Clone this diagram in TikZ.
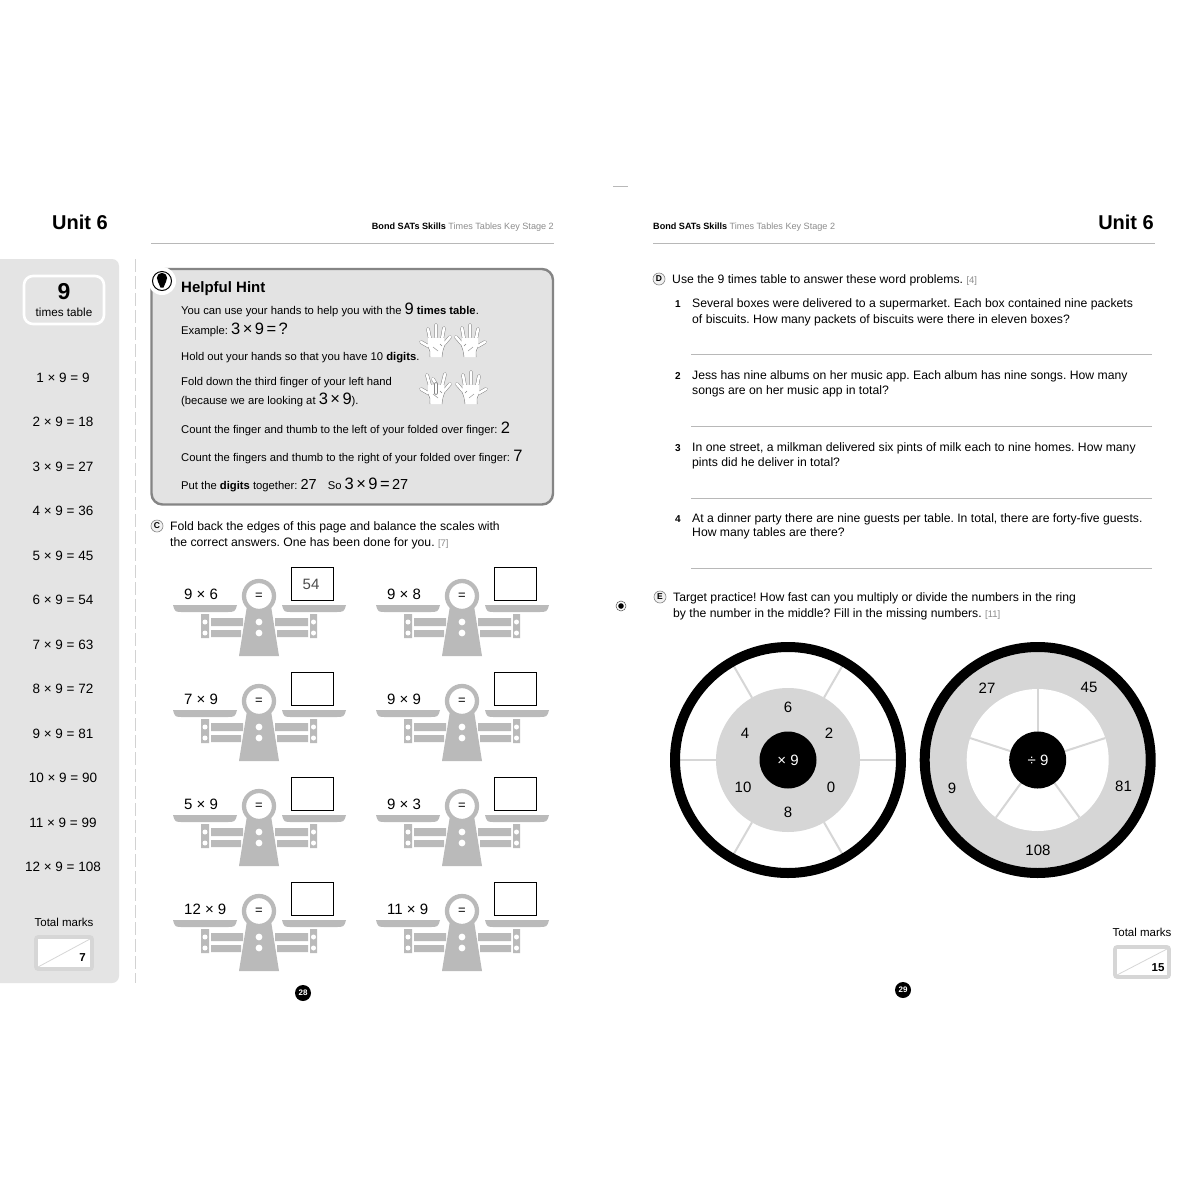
\documentclass[tikz,border=0pt]{standalone}
\usepackage{fontspec}
\setmainfont{Liberation Sans}
\AtBeginDocument{\frenchspacing}
\definecolor{sidegray}{gray}{.895}
\definecolor{panelgray}{gray}{.89}
\definecolor{edgegray}{gray}{.52}
\definecolor{scalegray}{gray}{.73}
\definecolor{wheelgray}{gray}{.84}
\definecolor{rulegray}{gray}{.72}
\definecolor{notegray}{gray}{.55}
\newcommand{\fs}[1]{\fontsize{#1}{#1}\selectfont}
\newcommand{\bignum}[1]{{\fs{16.5}\spaceskip=.15em #1}}
\newcommand{\midnum}[1]{{\fs{14.5}#1}}
\newcommand{\markcount}[1]{{\fs{9.5}\textcolor{notegray}{[#1]}}}
\newcommand{\handbase}{
  \fill[white] (-8,-5) -- (8,-5) -- (9,2) -- (6,14) -- (-6,14) -- (-8,4) -- cycle;
  \draw[edgegray,line width=.5pt] (-8,4) .. controls (-6,8) .. (-6,14) (9,2) .. controls (7,7) .. (6,14);
  \draw[edgegray,line width=.4pt] (-3,4) -- (2,8) (4,1) -- (6,3);
}
\tikzset{
  txt/.style={anchor=base west,inner sep=0pt,font=\fs{12.2}},
  hinttxt/.style={anchor=base west,inner sep=0pt,font=\fs{11.25}},
  sum/.style={inner sep=0pt,font=\fs{13.5}},
  num/.style={inner sep=0pt,font=\fs{15}},
  finger/.style={draw=edgegray,double=white,double distance=2.6pt,line width=.5pt,line cap=round},
  ansline/.style={rulegray,line width=.7pt},
  spoke/.style={wheelgray,line width=2pt},
  answerbox/.style={draw=black,line width=1pt,fill=white,minimum width=42pt,minimum height=33pt,inner sep=0pt},
  markbox/.style={draw=wheelgray,line width=3.6pt,fill=white,rounded corners=2pt},
  pics/hand/.style={code={
    \draw[finger] (-6,-4) -- (-8,-14) (0,-6) -- (0,-18) (6,-4) -- (8,-15)
      (8,1) -- (14,-6) (-8,3) -- (-15,-1);
    \handbase
  }},
  pics/foldhand/.style={code={
    \draw[finger] (-6,-4) -- (-9,-15) (6,-4) -- (9,-16) (8,1) -- (14,-6) (-8,3) -- (-15,-1) (0,-6) -- (-3,-11);
    \handbase
    \draw[finger] (0,-6) -- (0,3);
  }},
  pics/balance/.style={code={
    \fill[scalegray] (-86,9) -- (-22,9) .. controls (-24,16) .. (-33,16) -- (-76,16) .. controls (-84,16) .. (-86,9) -- cycle;
    \fill[scalegray] (23,9) -- (87,9) .. controls (85,16) .. (76,16) -- (33,16) .. controls (25,16) .. (23,9) -- cycle;
    \fill[scalegray] (-58,18) rectangle (-50,42) (51,18) rectangle (58,42);
    \fill[scalegray] (-48,22) rectangle (-16,30) (-48,34) rectangle (-18,41);
    \fill[scalegray] (16,22) rectangle (49,30) (18,34) rectangle (49,41);
    \fill[scalegray] (-12,10) -- (12,10) -- (20,60) -- (-20,60) -- cycle;
    \fill[white] (-54,26) circle (2.5pt) (-54,37) circle (2.5pt) (54.5,26) circle (2.5pt) (54.5,37) circle (2.5pt)
      (0,26) circle (3.4pt) (0,37) circle (3.4pt);
    \draw[scalegray,line width=4.3pt,fill=white] (0,0) circle (15pt);
    \node[inner sep=0pt,font=\fs{13}] (eq) at (0,0) {=};
  }}
}
\begin{document}
\begin{tikzpicture}[x=1pt,y=-1pt]
\useasboundingbox (0,0) rectangle (1200,1200);
\fill[white] (0,0) rectangle (1200,1200);
\draw[rulegray,line width=.8pt] (613,186) -- (628,186);

% left page
\node[anchor=base west,inner sep=0pt,font=\fs{20}\bfseries] (unitL) at (52,229) {Unit 6};
\node[anchor=base east,inner sep=0pt,font=\fs{9.1}] (headL) at (554,229) {\textbf{Bond SATs Skills} \textcolor{notegray}{Times Tables Key Stage 2}};
\draw[rulegray,line width=1pt] (151,243) -- (554,243);
\fill[sidegray,rounded corners=7pt] (-10,259) rectangle (119,983);
\draw[sidegray!92!black,line width=1pt,dash pattern=on 13pt off 4pt] (135,259) -- (135,983);
\draw[white,line width=2.6pt,rounded corners=9pt] (24,276) rectangle (104,324);
\node[inner sep=0pt,font=\fs{23}\bfseries] (nine) at (64,292) {9};
\node[inner sep=0pt,font=\fs{11.7}] (timestable) at (64,312.5) {times table};
\foreach \i/\s in {0/1 × 9 = 9,1/2 × 9 = 18,2/3 × 9 = 27,3/4 × 9 = 36,4/5 × 9 = 45,5/6 × 9 = 54,6/7 × 9 = 63,7/8 × 9 = 72,8/9 × 9 = 81,9/10 × 9 = 90,10/11 × 9 = 99,11/12 × 9 = 108}
  \node[sum] (row\i) at (63,377.5+44.5*\i) {\s};
\node[inner sep=0pt,font=\fs{11.5}] (totalL) at (64,922) {Total marks};
\draw[markbox] (36,937) rectangle (92,969);
\draw[wheelgray,line width=.8pt] (38,967) -- (90,939);
\node[inner sep=0pt,font=\fs{11.5}\bfseries] (outofL) at (82.5,958) {7};
\fill[black] (303,993) circle (8pt);
\node[inner sep=0pt,text=white,font=\fs{8}\bfseries] (pageL) at (303,993) {28};

% hint
\draw[edgegray,line width=2.4pt,fill=panelgray,rounded corners=11pt] (151.5,269) rectangle (553,504.5);
\fill[white] (162,281) circle (14pt);
\draw[black,line width=1pt,fill=white] (162,281) circle (9.5pt);
\fill[black] (162,278) circle (5.2pt);
\fill[black] (157.5,280.5) -- (166.5,280.5) -- (163.5,287.5) -- (160.5,287.5) -- cycle;
\node[anchor=base west,inner sep=0pt,font=\fs{15}\bfseries] (hinthead) at (181,292) {Helpful Hint};
\node[hinttxt] (hint1) at (181,314) {You can use your hands to help you with the \bignum{9} \textbf{times table}.};
\node[hinttxt] (hint2) at (181,334) {Example: \bignum{3 × 9 = ?}};
\node[hinttxt] (hint3) at (181,360) {Hold out your hands so that you have 10 \textbf{digits}.};
\node[hinttxt] (hint4) at (181,385) {Fold down the third finger of your left hand};
\node[hinttxt] (hint5) at (181,404.5) {(because we are looking at \bignum{3 × 9}).};
\node[hinttxt] (hint6) at (181,433) {Count the finger and thumb to the left of your folded over finger: \bignum{2}};
\node[hinttxt] (hint7) at (181,461) {Count the fingers and thumb to the right of your folded over finger: \bignum{7}};
\node[hinttxt] (hint8) at (181,489) {Put the \textbf{digits} together: \midnum{27}\hspace{11pt}So \bignum{3 × 9 = \midnum{27}}};
\pic at (436,343) {hand};
\pic[xscale=-1] at (470,343) {hand};
\pic at (436,390) {foldhand};
\pic[xscale=-1] at (471,390) {hand};

% C
\draw[edgegray,line width=.6pt,fill=panelgray!50] (157,526) circle (6pt);
\node[inner sep=0pt,font=\fs{8.5}\bfseries] (letterC) at (157,526) {C};
\node[txt] (partC1) at (170,530) {Fold back the edges of this page and balance the scales with};
\node[txt] (partC2) at (170,546) {the correct answers. One has been done for you. \markcount{7}};
\foreach \x/\lab/\y in {259/9 × 6/596,259/7 × 9/701,259/5 × 9/806,259/12 × 9/911,462/9 × 8/596,462/9 × 9/701,462/9 × 3/806,462/11 × 9/911}{
  \pic at (\x,\y) {balance};
  \node[num,anchor=west] (sum\x\y) at (\x-75,\y-1.5) {\lab};
  \node[answerbox] (ans\x\y) at (\x+53.5,\y-12.5) {};
}
\node[inner sep=0pt,text=black!70,font=\fs{15}] (given) at (311,584) {54};

% right page
\node[anchor=base west,inner sep=0pt,font=\fs{9.1}] (headR) at (653,229) {\textbf{Bond SATs Skills} \textcolor{notegray}{Times Tables Key Stage 2}};
\node[anchor=base east,inner sep=0pt,font=\fs{20}\bfseries] (unitR) at (1154,229) {Unit 6};
\draw[rulegray,line width=1pt] (653,243) -- (1155,243);

\draw[edgegray,line width=.6pt,fill=panelgray!50] (659,279) circle (6pt);
\node[inner sep=0pt,font=\fs{8.5}\bfseries] (letterD) at (659,279) {D};
\node[txt] (partD) at (672,283) {Use the 9 times table to answer these word problems. \markcount{4}};
\foreach \n/\y/\gap/\la/\lb in {1/307/16/Several boxes were delivered to a supermarket. Each box contained nine packets/of biscuits. How many packets of biscuits were there in eleven boxes?,
  2/379/15.5/Jess has nine albums on her music app. Each album has nine songs. How many/songs are on her music app in total?,
  3/451/15.5/{In one street, a milkman delivered six pints of milk each to nine homes. How many}/pints did he deliver in total?,
  4/522/14.5/{At a dinner party there are nine guests per table. In total, there are forty-five guests.}/How many tables are there?}{
  \node[anchor=base west,inner sep=0pt,font=\fs{10}\bfseries] (qnum\n) at (675,\y) {\n};
  \node[txt] (qa\n) at (692,\y) {\la};
  \node[txt] (qb\n) at (692,\y+\gap) {\lb};
}
\foreach \y in {354,426,498,568}
  \draw[ansline] (691,\y) -- (1152,\y);

\fill[black] (621,606) circle (2.8pt);
\draw[black!70,line width=.5pt] (621,606) circle (5pt);
\draw[edgegray,line width=.6pt,fill=panelgray!50] (660,597) circle (6pt);
\node[inner sep=0pt,font=\fs{8.5}\bfseries] (letterE) at (660,597) {E};
\node[txt] (partE1) at (673,601) {Target practice! How fast can you multiply or divide the numbers in the ring};
\node[txt] (partE2) at (673,617) {by the number in the middle? Fill in the missing numbers. \markcount{11}};

% wheels
\begin{scope}[shift={(788,760)}]
  \fill[wheelgray] (0,0) circle (72pt);
  \foreach \a in {0,60,120,180,240,300}
    \draw[spoke] (\a:72pt) -- (\a:108pt);
  \draw[black,line width=10pt] (0,0) circle (113pt);
  \fill[black] (0,0) circle (28.5pt);
\end{scope}
\begin{scope}[shift={(1037.7,760)}]
  \fill[wheelgray] (0,0) circle (108pt);
  \fill[white] (0,0) circle (71pt);
  \foreach \a in {90,18,162,-54,-126}
    \draw[spoke] (\a:28pt) -- (\a:71pt);
  \draw[black,line width=10pt] (0,0) circle (113pt);
  \fill[black] (0,0) circle (28.5pt);
\end{scope}
\node[inner sep=0pt,text=white,font=\fs{15}] (timesnine) at (788,760) {× 9};
\node[inner sep=0pt,text=white,font=\fs{15}] (divnine) at (1038,760) {÷ 9};
\foreach \x/\y/\v in {788/707.5/6,745/733/4,829/733/2,743/787/10,831/787/0,788/812.5/8,987/688/27,1089/687/45,952/788/9,1123.5/786/81,1038/850/108}
  \node[inner sep=0pt,font=\fs{15}] (ring\v) at (\x,\y) {\v};

\node[inner sep=0pt,font=\fs{11.5}] (totalR) at (1142,932) {Total marks};
\draw[markbox] (1115,947) rectangle (1169,977);
\draw[wheelgray,line width=.8pt] (1117,975) -- (1167,949);
\node[inner sep=0pt,font=\fs{11.5}\bfseries] (outofR) at (1158,968) {15};
\fill[black] (903,990) circle (8pt);
\node[inner sep=0pt,text=white,font=\fs{8}\bfseries] (pageR) at (903,990) {29};
\end{tikzpicture}
\end{document}
